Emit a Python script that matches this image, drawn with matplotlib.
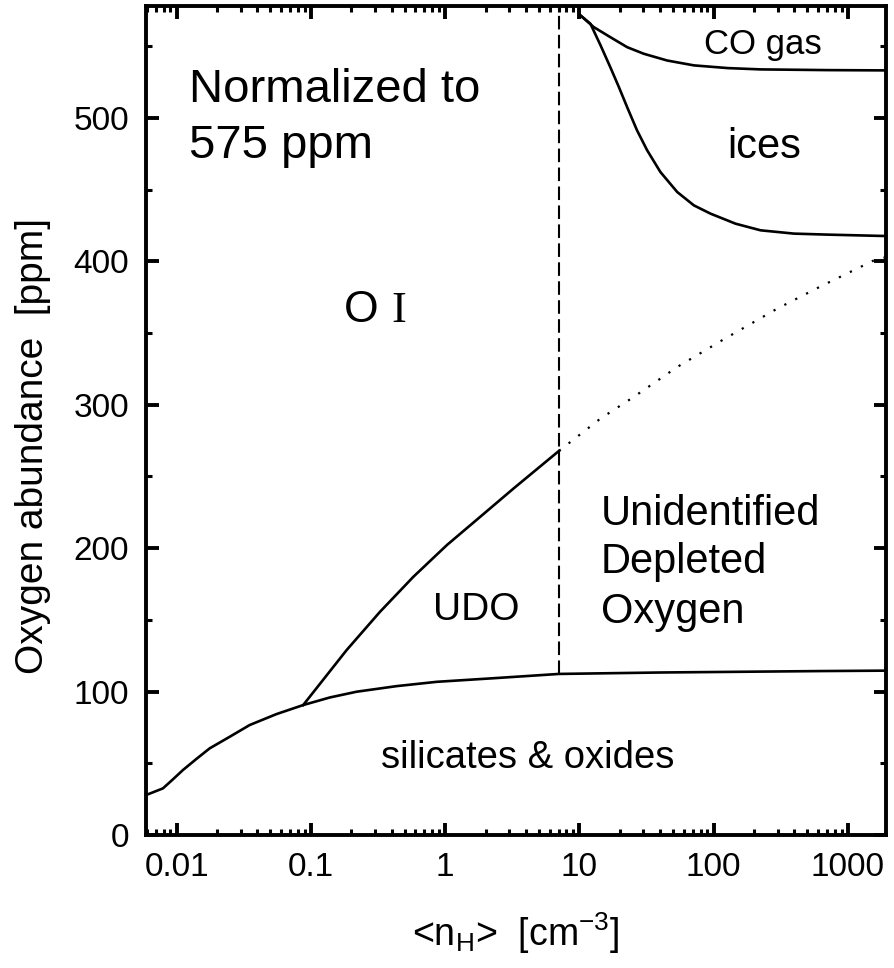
import numpy as np
import matplotlib.pyplot as plt
from matplotlib.ticker import MultipleLocator, LogLocator, FixedFormatter, FixedLocator

plt.rcParams['font.family'] = ['Liberation Sans', 'DejaVu Sans']
plt.rcParams['mathtext.default'] = 'regular'

# Data
sil_n = [0.00594, 0.00685, 0.00791, 0.00939, 0.01115, 0.01403, 0.01763, 0.02488, 0.03508,
         0.05546, 0.0877, 0.1387, 0.2193, 0.4357, 0.867, 2.29, 7.05, 40.2, 631, 1950]
sil_o = [27.9, 30.2, 32.5, 38.8, 45.3, 53.0, 60.4, 68.5, 76.7,
         84.3, 90.6, 95.9, 99.9, 103.8, 106.8, 109.3, 112.3, 113.3, 114.3, 114.6]

udo_n = [0.0877, 0.1846, 0.3273, 0.580, 1.03, 1.824, 3.236, 7.05]
udo_o = [90.6, 128.9, 155.6, 180.0, 202.1, 221.8, 241.6, 267.8]

dot_n = [7.05, 14.4, 25.4, 53.6, 116, 298, 630, 1570, 1950]
dot_o = [267.8, 290.4, 305.4, 326.3, 345.0, 367.0, 382.6, 400.7, 403.0]

ice_n = [10.2, 12.1, 14.4, 17.0, 19.7, 22.7, 26.9, 32.0, 40.2, 53.6, 71.3, 95, 146, 224, 397, 706, 1950]
ice_o = [571.4, 565.6, 550.5, 535.4, 521.5, 507.5, 491.3, 477.4, 462.2, 448.3, 439.0, 433.2,
         426.2, 421.6, 419.3, 418.6, 417.6]

co_n = [10.2, 12.8, 17.0, 22.7, 30.2, 45.1, 71.3, 128, 224, 706, 1950]
co_o = [571.4, 563.3, 556.3, 549.3, 544.7, 540.0, 536.6, 534.7, 533.8, 533.3, 533.1]

n_cut = 7.05
xticks = [0.01, 0.1, 1, 10, 100, 1000]
xtick_labels = ['0.01', '0.1', '1', '10', '100', '1000']

fig = plt.figure(figsize=(8.94, 9.68), dpi=100)
ax = fig.add_axes([0.1633, 0.1374, 0.8277, 0.8564])

lw = 1.9
ax.plot(sil_n, sil_o, color='k', lw=lw)
ax.plot(udo_n, udo_o, color='k', lw=lw)
ax.plot(dot_n, dot_o, color='k', lw=1.6, linestyle=(0, (1, 4.5)))
ax.plot(ice_n, ice_o, color='k', lw=lw)
ax.plot(co_n, co_o, color='k', lw=lw)
ax.plot([n_cut, n_cut], [sil_o[16], 580], color='k', lw=1.5, linestyle=(0, (6.5, 2.6)))

ax.set_xscale('log')
ax.set_xlim(10**-2.228, 10**3.284)
ax.set_ylim(0, 578)

ax.xaxis.set_major_locator(FixedLocator(xticks))
ax.xaxis.set_major_formatter(FixedFormatter(xtick_labels))
ax.xaxis.set_minor_locator(LogLocator(base=10, subs=np.arange(2, 10)))
ax.xaxis.set_minor_formatter(FixedFormatter([]))
ax.yaxis.set_major_locator(MultipleLocator(100))
ax.yaxis.set_minor_locator(MultipleLocator(50))

ax.tick_params(which='both', direction='in', top=True, right=True, labelsize=24, colors='k')
ax.tick_params(which='major', length=9, width=2.8, pad=12)
ax.tick_params(which='minor', length=4.5, width=2.2)
for s in ax.spines.values():
    s.set_linewidth(2.8)

ax.set_xlabel(r'<n$_{H}$>  [cm$^{-3}$]', fontsize=27, labelpad=20)
ax.set_ylabel('Oxygen abundance  [ppm]', fontsize=28)
ax.yaxis.set_label_coords(-0.129, 0.469)

ax.text(0.0123, 510.8, 'Normalized to', fontsize=34, ha='left', va='baseline')
ax.text(0.0123, 471.8, '575 ppm', fontsize=34, ha='left', va='baseline')
ax.text(0.236, 358, 'O', fontsize=32, ha='center', va='baseline')
ax.text(0.454, 358, 'I', fontsize=32, ha='center', va='baseline', family='Liberation Serif')
ax.text(234, 551, 'CO gas', fontsize=25, ha='center', va='center')
ax.text(238, 471.7, 'ices', fontsize=30, ha='center', va='baseline')
ax.text(14.5, 216.0, 'Unidentified', fontsize=30, ha='left', va='baseline')
ax.text(14.5, 182.6, 'Depleted', fontsize=30, ha='left', va='baseline')
ax.text(14.5, 147.7, 'Oxygen', fontsize=30, ha='left', va='baseline')
ax.text(1.72, 149.8, 'UDO', fontsize=28, ha='center', va='baseline')
ax.text(4.13, 46.5, 'silicates & oxides', fontsize=27.5, ha='center', va='baseline')

fig.savefig('out.png', dpi=100)
